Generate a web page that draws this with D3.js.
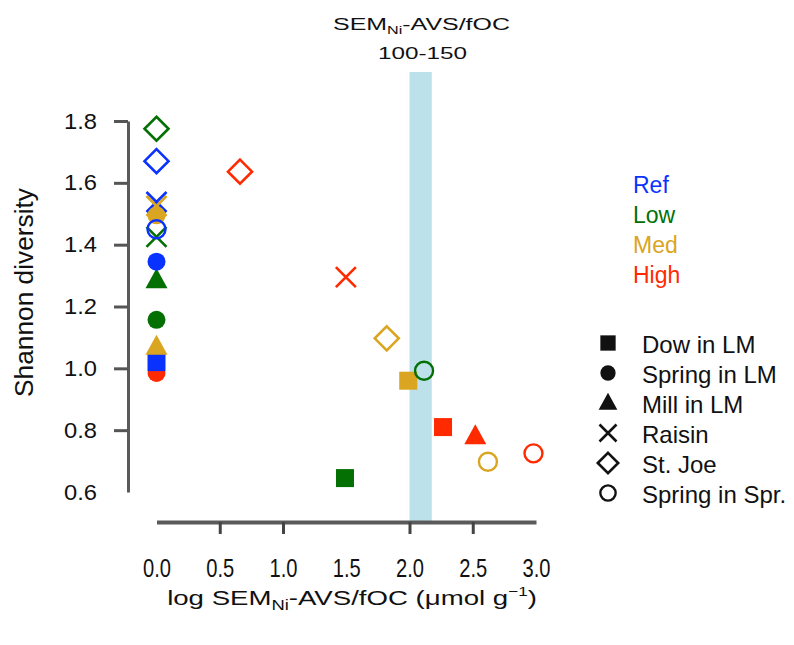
<!DOCTYPE html>
<html>
<head>
<meta charset="utf-8">
<script src="https://cdn.jsdelivr.net/npm/d3@7"></script>
<style>
body { margin: 0; background: #fff; }
svg text { font-family: "Liberation Sans", Arial, sans-serif; fill: #111; }
</style>
</head>
<body>
<svg id="chart"></svg>
<script>
// levels (colour groups) and sites (symbol groups)
var levels = ["Ref", "Low", "Med", "High"];
var levelColors = ["#0a32ff", "#047004", "#daa520", "#ff2a00"];
var sites = ["Dow in LM", "Spring in LM", "Mill in LM", "Raisin", "St. Joe", "Spring in Spr."];
var siteShapes = ["square", "dot", "triangle", "cross", "diamond", "ring"];

var xTicks = [0, 0.5, 1, 1.5, 2, 2.5, 3];
var yTicks = [0.6, 0.8, 1.0, 1.2, 1.4, 1.6, 1.8];
var band = [2.0, 2.176]; // log10(100) .. log10(150)

// points, in drawing order
var ptSite  = [1, 0, 2, 1, 2, 1, 3, 3, 1, 3, 5, 4, 4, 4, 3, 4, 0, 5, 0, 2, 5, 5, 0];
var ptLevel = [3, 0, 2, 1, 1, 0, 0, 2, 2, 1, 0, 0, 1, 3, 3, 2, 2, 1, 3, 3, 2, 3, 1];
var ptX = [0, 0, 0, 0, 0, 0, 0, 0, 0, 0, 0, 0, 0, 0.66, 1.497, 1.82, 1.99, 2.115, 2.265, 2.52, 2.62, 2.98, 1.49];
var ptY = [0.985, 1.02, 1.07, 1.157, 1.285, 1.345, 1.538, 1.525, 1.495, 1.425, 1.45, 1.67, 1.775,
           1.636, 1.295, 1.097, 0.96, 0.992, 0.81, 0.78, 0.698, 0.725, 0.645];

var W = 794, H = 645;
var svg = d3.select("#chart").attr("width", W).attr("height", H);

var x = d3.scaleLinear().domain([0, 3]).range([156.5, 536]);
var y = d3.scaleLinear().domain([0.6, 1.8]).range([492, 121]);

// stretch a text horizontally to a given width, around its anchor x
function fit(sel, target) {
	sel.each(function() {
		var w = this.getComputedTextLength();
		var ax = +this.getAttribute("x") || 0;
		var sx = target / w;
		d3.select(this).attr("transform",
			"translate(" + ax + ",0) scale(" + sx + ",1) translate(" + (-ax) + ",0)");
	});
}

// shaded band
svg.append("rect")
	.attr("x", x(band[0]))
	.attr("width", x(band[1]) - x(band[0]))
	.attr("y", 72)
	.attr("height", 522 - 72)
	.attr("fill", "#bce1eb");

// axes
var yaxis = d3.axisLeft(y).tickValues(yTicks).tickSize(14).tickSizeOuter(0)
	.tickPadding(17).tickFormat(d3.format(".1f"));
var gy = svg.append("g").attr("transform", "translate(128,0)").call(yaxis)
	.attr("font-size", 22).attr("font-family", null);
gy.select(".domain").attr("stroke", "#5a5a5a").attr("stroke-width", 3);
gy.selectAll(".tick line").attr("stroke", "#555").attr("stroke-width", 3)
	.attr("opacity", function(d) { return d === 0.6 ? 0 : 1; });
gy.selectAll(".tick text").attr("fill", "#111");
fit(gy.selectAll(".tick text"), 33);

var xaxis = d3.axisBottom(x).tickValues(xTicks).tickSize(12).tickSizeOuter(0)
	.tickPadding(25).tickFormat(d3.format(".1f"));
var gx = svg.append("g").attr("transform", "translate(0,522)").call(xaxis)
	.attr("font-size", 26).attr("font-family", null);
gx.select(".domain").attr("stroke", "#5a5a5a").attr("stroke-width", 4);
gx.selectAll(".tick line").attr("stroke", "#444").attr("stroke-width", 3)
	.attr("opacity", function(d) { return (d === 0 || d === 1.5 || d === 3) ? 0 : 1; });
gx.selectAll(".tick text").attr("fill", "#111");
fit(gx.selectAll(".tick text"), 28);

// symbol drawing
function marker(g, shape, color, s) {
	if (shape === "square") {
		g.append("rect").attr("x", -9 * s).attr("y", -9 * s)
			.attr("width", 18 * s).attr("height", 18 * s).attr("fill", color);
	} else if (shape === "dot") {
		g.append("circle").attr("r", 9 * s).attr("fill", color);
	} else if (shape === "triangle") {
		g.append("path").attr("d", d3.line()([[0, -12 * s], [11 * s, 8 * s], [-11 * s, 8 * s]]) + "Z")
			.attr("fill", color);
	} else if (shape === "cross") {
		var c = 10 * s;
		g.append("path").attr("d", "M" + -c + "," + -c + "L" + c + "," + c + "M" + -c + "," + c + "L" + c + "," + -c)
			.attr("stroke", color).attr("stroke-width", 2.6).attr("fill", "none");
	} else if (shape === "diamond") {
		var r = 12 * s;
		g.append("path").attr("d", d3.line()([[0, -r], [r, 0], [0, r], [-r, 0]]) + "Z")
			.attr("stroke", color).attr("stroke-width", 2.6).attr("fill", "none");
	} else if (shape === "ring") {
		g.append("circle").attr("r", 9 * s).attr("stroke", color)
			.attr("stroke-width", 2.4).attr("fill", "none");
	}
}

// points
var pts = svg.append("g");
ptX.forEach(function(v, i) {
	var g = pts.append("g").attr("transform", "translate(" + x(v) + "," + y(ptY[i]) + ")");
	marker(g, siteShapes[ptSite[i]], levelColors[ptLevel[i]], 1);
});

// top title
var t1 = svg.append("text").attr("x", 421.5).attr("y", 30).attr("text-anchor", "middle")
	.attr("font-size", 17);
t1.append("tspan").text("SEM");
t1.append("tspan").attr("font-size", 11).attr("dy", 4).text("Ni");
t1.append("tspan").attr("dy", -4).text("-AVS/fOC");
fit(t1, 177);
var t2 = svg.append("text").attr("x", 422.5).attr("y", 59).attr("text-anchor", "middle")
	.attr("font-size", 17).text("100-150");
fit(t2, 89);

// axis titles
var xt = svg.append("text").attr("x", 352).attr("y", 605).attr("text-anchor", "middle")
	.attr("font-size", 21);
xt.append("tspan").text("log SEM");
xt.append("tspan").attr("font-size", 14).attr("dy", 5).text("Ni");
xt.append("tspan").attr("dy", -5).text("-AVS/fOC (\u03bcmol g");
xt.append("tspan").attr("font-size", 13).attr("dy", -9).text("\u22121");
xt.append("tspan").attr("dy", 9).text(")");
fit(xt, 370);

var yt = svg.append("text").attr("x", 0).attr("y", 0)
	.attr("text-anchor", "middle").attr("font-size", 26)
	.text("Shannon diversity");
yt.attr("transform", "translate(33,292.5) rotate(-90) scale(" + (209 / yt.node().getComputedTextLength()) + ",1)");

// colour legend
levels.forEach(function(l, i) {
	svg.append("text").attr("x", 633).attr("y", 193 + i * 30)
		.attr("font-size", 23).style("fill", levelColors[i])
		.text(l);
});

// symbol legend
sites.forEach(function(s, i) {
	var yy = 353 + i * 30;
	var g = svg.append("g").attr("transform", "translate(608," + (yy - 10) + ")");
	marker(g, siteShapes[i], "#111", 0.85);
	svg.append("text").attr("x", 642).attr("y", yy).attr("font-size", 24).text(s);
});
</script>
</body>
</html>
